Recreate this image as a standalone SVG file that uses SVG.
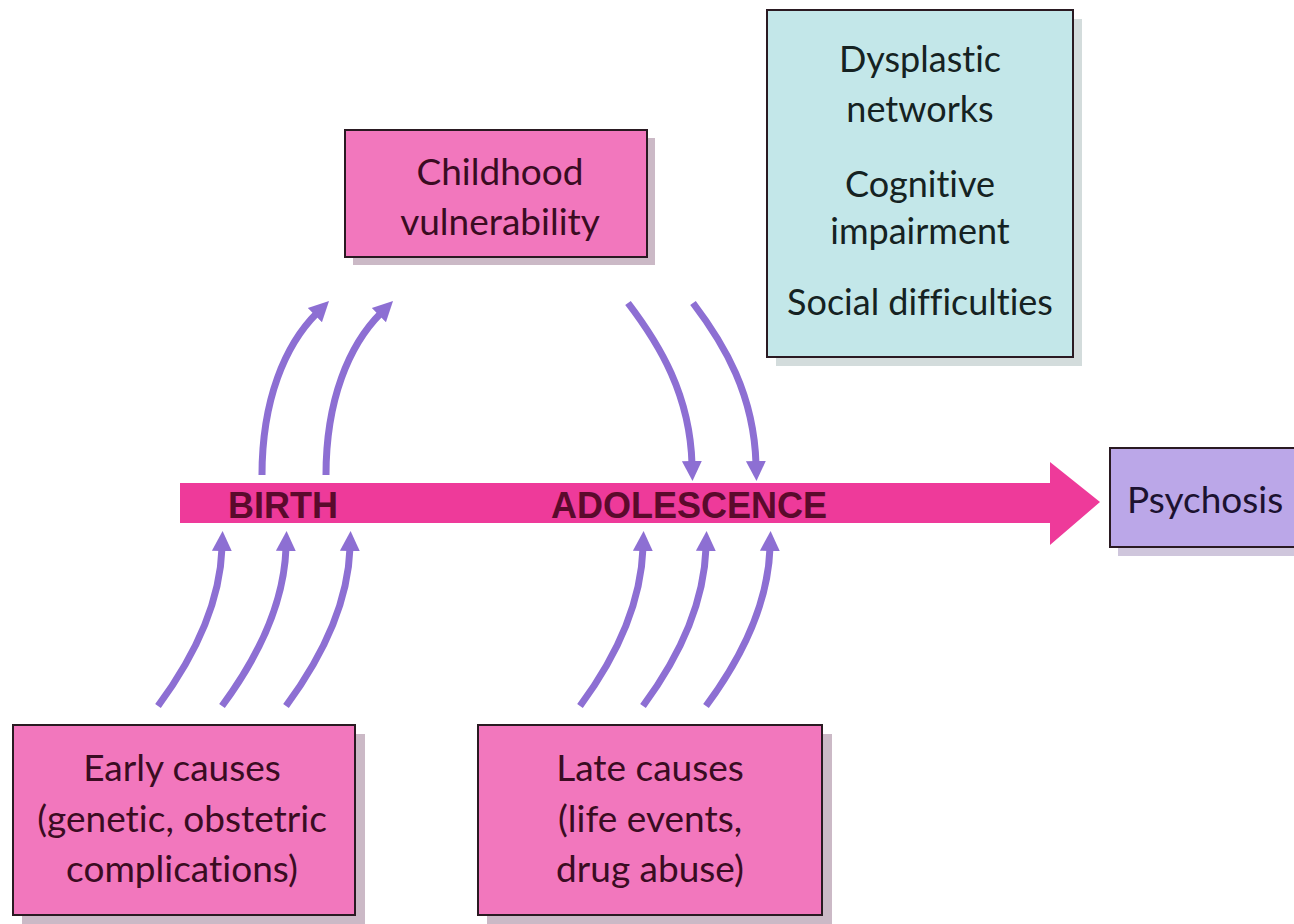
<svg xmlns="http://www.w3.org/2000/svg" width="1294" height="924" viewBox="0 0 1294 924">
<style>
.box{stroke:#2a1a22;stroke-width:2}
.pink{fill:#f277bd}
.cyan{fill:#c3e7e9}
.purp{fill:#bba7e8}
.sh{fill:#cbb9c6}
.shc{fill:#d3dcdc}
.t{font-family:Lato,"Open Sans",sans-serif;font-size:37px;text-anchor:middle;fill:#3a0c22;font-variant-ligatures:none}
.tc{font-family:Lato,"Open Sans",sans-serif;font-size:36px;text-anchor:middle;fill:#152222;font-variant-ligatures:none}
.bar{font-family:"Liberation Sans",Arial,sans-serif;font-weight:bold;font-size:36px;fill:#5a0a2c}
.arr{fill:none;stroke:#8d6fd3;stroke-width:7;stroke-linecap:butt;marker-end:url(#ah)}
</style>
<defs>
<marker id="ah" markerUnits="userSpaceOnUse" markerWidth="24" markerHeight="24" viewBox="0 0 24 24" refX="3" refY="12" orient="auto">
<path d="M0,2 L20,12 L0,22 Z" fill="#8d6fd3"/>
</marker>
</defs>
<rect width="1294" height="924" fill="#ffffff"/>

<g id="timeline">
<path d="M180,483 L1050,483 L1050,462 L1100,502 L1050,545 L1050,523 L180,523 Z" fill="#ee3a9a"/>
<text class="bar" x="228" y="518">BIRTH</text>
<text class="bar" x="551" y="518">ADOLESCENCE</text>
</g>

<g id="childhood">
<rect class="sh" x="353" y="138" width="302" height="127"/>
<rect class="box pink" x="345" y="130" width="302" height="127"/>
<text class="t" x="500" y="185">Childhood</text>
<text class="t" x="500" y="235">vulnerability</text>
</g>

<g id="outcomes">
<rect class="shc" x="776" y="19" width="306" height="347"/>
<rect class="box cyan" x="767" y="10" width="306" height="347"/>
<text class="tc" x="920" y="72">Dysplastic</text>
<text class="tc" x="920" y="122">networks</text>
<text class="tc" x="920" y="197">Cognitive</text>
<text class="tc" x="920" y="244">impairment</text>
<text class="tc" x="920" y="315">Social difficulties</text>
</g>

<g id="psychosis">
<rect fill="#cfc6dc" x="1118" y="456" width="180" height="100"/>
<rect class="box purp" x="1110" y="448" width="190" height="99"/>
<text class="t" x="1127" y="513" style="text-anchor:start;fill:#1c1230">Psychosis</text>
</g>

<g id="early">
<rect class="sh" x="22" y="734" width="343" height="190"/>
<rect class="box pink" x="13" y="725" width="342" height="190"/>
<text class="t" x="182" y="781">Early causes</text>
<text class="t" x="182" y="832">(genetic, obstetric</text>
<text class="t" x="182" y="882">complications)</text>
</g>

<g id="late">
<rect class="sh" x="487" y="734" width="345" height="190"/>
<rect class="box pink" x="478" y="725" width="344" height="190"/>
<text class="t" x="650" y="781">Late causes</text>
<text class="t" x="650" y="832">(life events,</text>
<text class="t" x="650" y="882">drug abuse)</text>
</g>

<g id="connectors">
<path class="arr" d="M262,475 C262,400 285,345 317,313"/>
<path class="arr" d="M326,475 C326,400 349,345 381,313"/>
<path class="arr" d="M628,303 C660,345 690,395 692,464"/>
<path class="arr" d="M693,303 C725,345 754,395 756,464"/>
<path class="arr" d="M158,706 C192,660 220,605 222,548"/>
<path class="arr" d="M222,706 C256,660 284,605 286,548"/>
<path class="arr" d="M286,706 C320,660 348,605 350,548"/>
<path class="arr" d="M580,706 C614,660 641,605 643,548"/>
<path class="arr" d="M643,706 C677,660 704,605 706,548"/>
<path class="arr" d="M706,706 C740,660 768,605 770,548"/>
</g>
</svg>
